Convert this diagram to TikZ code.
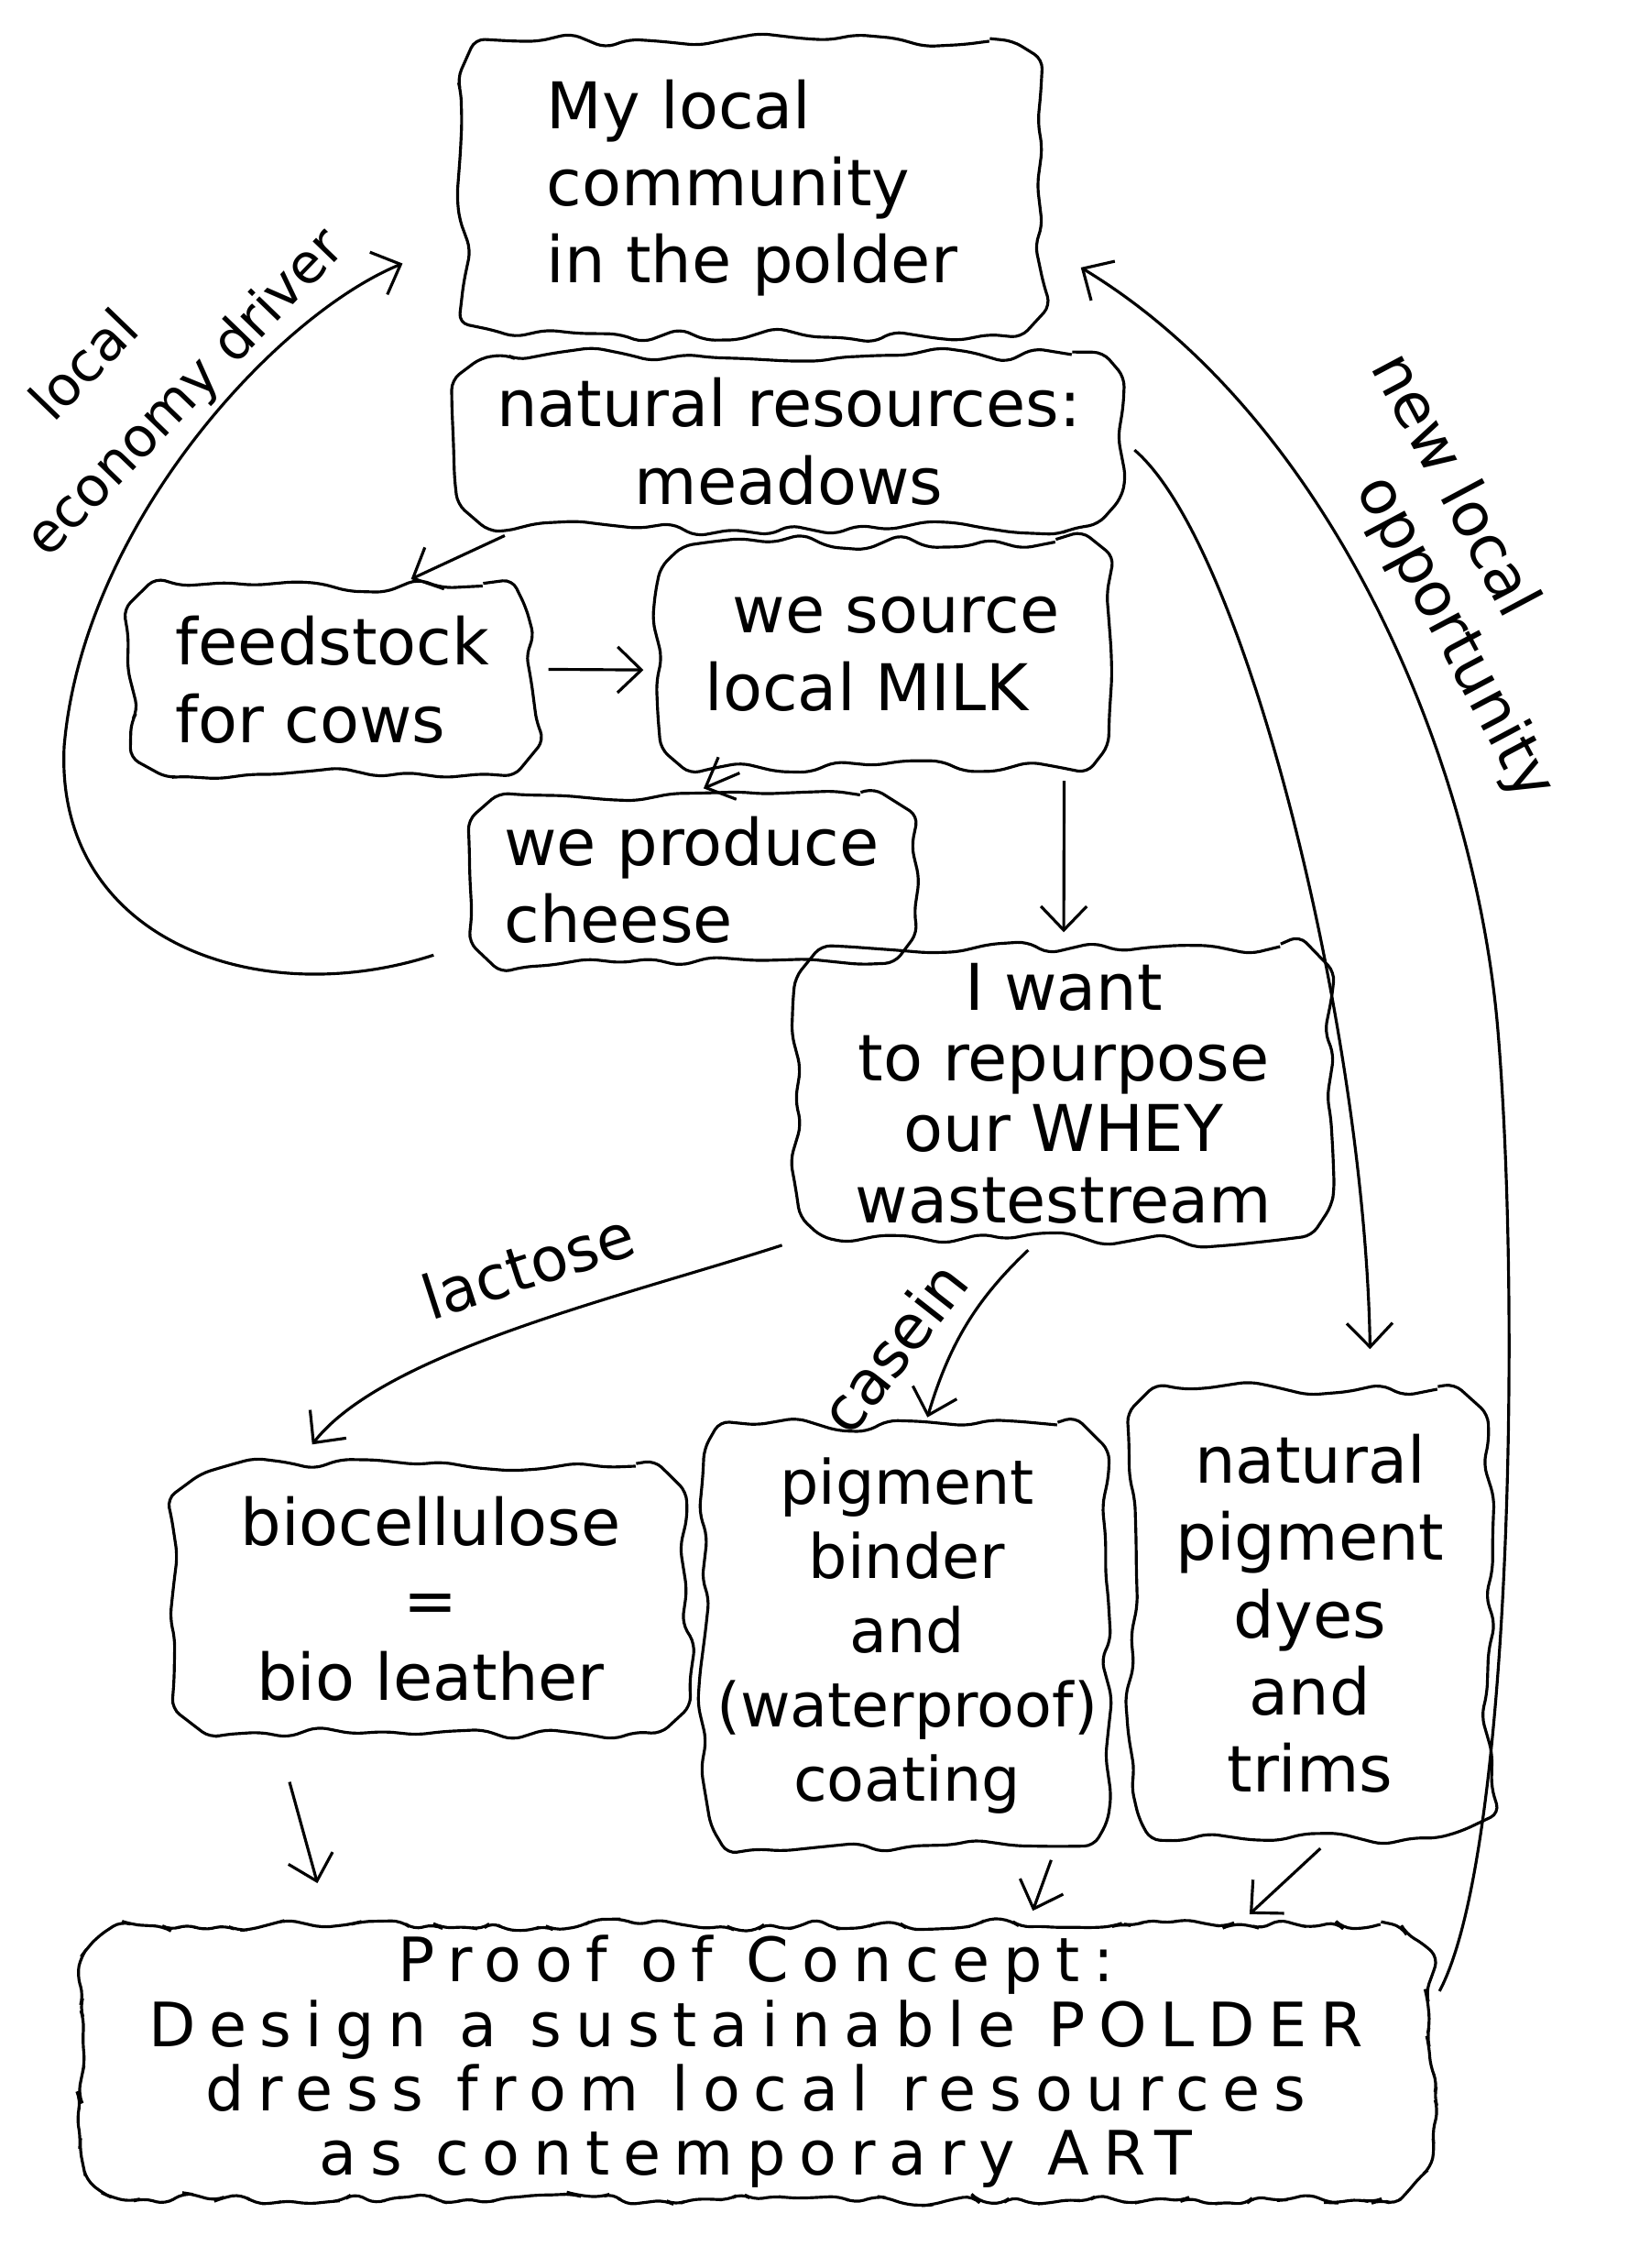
\documentclass[tikz,border=0pt]{standalone}
\usepackage{fontspec}
\setmainfont{DejaVu Sans}
\newfontfamily\widehand{DejaVu Sans}[LetterSpace=22]
\usetikzlibrary{arrows.meta, decorations.pathmorphing}
\pgfmathsetseed{3}

\begin{document}
\begin{tikzpicture}[>={Straight Barb[length=2.6mm, width=5mm]}, line width=0.9pt,
      hand/.style={font=\fontsize{20}{24}\selectfont},
      blob/.style={hand, rectangle, rounded corners=16pt, inner sep=2pt, align=center,
        decoration={random steps, segment length=10pt, amplitude=2.5pt},
        postaction={draw, decorate, rounded corners=3pt}},
      conn/.style={->, shorten >=4pt, shorten <=4pt},
      lbl/.style={font=\fontsize{19}{26}\selectfont, align=center, inner sep=0pt}]
    \path[use as bounding box, fill=white] (0,0) rectangle (18,24.75);

    \node[blob, align=left, minimum width=6.3cm, minimum height=3.2cm] (comm) at (8.21,22.70) {My local\\community\\in the polder};
    \node[blob, minimum width=7.3cm, minimum height=1.9cm] (res) at (8.61,19.93) {natural resources:\\meadows};
    \node[blob, align=left, minimum width=4.4cm, minimum height=2.05cm] (feed) at (3.63,17.33) {feedstock\\for cows};
    \node[blob, align=left, minimum width=4.9cm, minimum height=2.45cm] (milk) at (9.63,17.61) {\hspace*{0.3cm}we source\\local MILK};
    \node[blob, align=left, minimum width=4.8cm, minimum height=1.85cm] (cheese) at (7.55,15.15) {we produce\\cheese};
    \node[blob, font=\fontsize{20}{22}\selectfont, minimum width=5.85cm, minimum height=3.2cm] (whey) at (11.61,12.82) {I want\\to repurpose\\our WHEY\\wastestream};
    \node[blob, minimum width=5.6cm, minimum height=2.9cm] (bio) at (4.70,7.30) {biocellulose\\=\\bio leather};
    \node[blob, font=\fontsize{19}{23}\selectfont, minimum width=4.4cm, minimum height=4.6cm] (binder) at (9.90,6.90) {pigment\\binder\\and\\(waterproof)\\coating};
    \node[blob, minimum width=3.9cm, minimum height=4.9cm] (dyes) at (14.30,7.14) {natural\\pigment\\dyes\\and\\trims};
    \node[blob, font={\widehand\fontsize{19}{20}\selectfont}, inner sep=1pt,
          decoration={random steps, segment length=5pt, amplitude=2pt},
          minimum width=14.76cm, minimum height=3.0cm] (poc) at (8.25,2.25)
          {Proof of Concept:\\Design a sustainable POLDER\\dress from local resources\\as contemporary ART};

    % edge labels
    \node[lbl, font=\fontsize{17}{28}\selectfont, align=left, rotate=46] (econ) at (1.68,20.79) {\hspace*{1.1cm}local\\economy driver};
    \node[lbl, font=\fontsize{19}{22}\selectfont, align=left, rotate=-62] (opp) at (15.95,18.45) {new local\\\hspace*{1.1cm}opportunity};
    \node[lbl, rotate=18] (lac) at (5.76,10.94) {lactose};
    \node[lbl, rotate=52] (cas) at (9.75,10.05) {casein};

    \draw[conn] (res.198) -- (feed.55);
    \draw[conn] (feed.3) -- (milk.184);
    \draw[conn] (milk.221) -- (cheese.north);
    \draw[conn] (milk.-32) -- (whey.north);
    \draw[conn, shorten >=12pt] (res.east) .. controls (13.6,18.8) and (14.9,13.5) .. (dyes.75);
    \draw[conn, shorten <=12pt, shorten >=20pt] (cheese.196) .. controls (2.8,13.7) and (0.6,14.5) .. (0.7,16.6)
      .. controls (0.9,19.0) and (3.0,21.3) .. (comm.190);
    \draw[conn, shorten >=14pt] (poc.5) .. controls (16.5,4.5) and (16.6,10.5) .. (16.35,13.5)
      .. controls (16.1,16.5) and (14.5,20.2) .. (comm.-11);
    \draw[conn, shorten >=8pt] (whey.south west) .. controls (6.8,10.6) and (4.2,10.0) .. (bio.135);
    \draw[conn, shorten >=2pt] (whey.-100) to[bend right=15] (binder.85);
    \draw[conn, shorten <=0.55cm, shorten >=0.45cm] (bio.221) -- (poc.162);
    \foreach \src/\a/\b in {binder/-55/27, dyes/-85/16}
      \draw[conn] (\src.\a) -- (poc.\b);
\end{tikzpicture}
\end{document}
